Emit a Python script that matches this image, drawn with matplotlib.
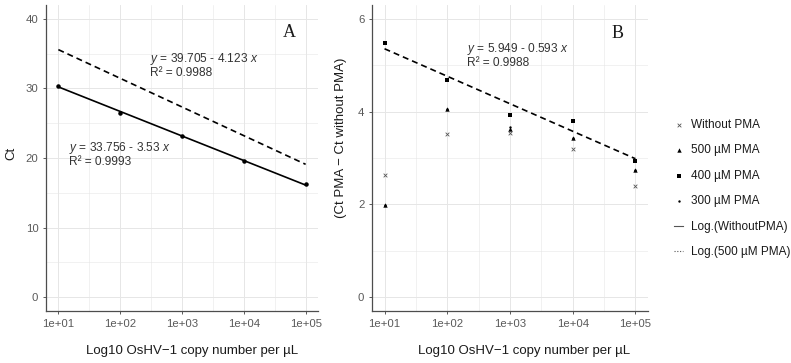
import numpy as np
import matplotlib
matplotlib.use("Agg")
import matplotlib.pyplot as plt
from matplotlib.lines import Line2D
from matplotlib.ticker import FixedLocator, FuncFormatter

plt.rcParams["font.family"] = ["Liberation Sans", "DejaVu Sans"]
plt.rcParams["mathtext.fontset"] = "custom"
plt.rcParams["mathtext.it"] = "Liberation Sans:italic"
plt.rcParams["mathtext.rm"] = "Liberation Sans"

# data
copies = [1e1, 1e2, 1e3, 1e4, 1e5]
ct_without = [30.3, 26.5, 23.2, 19.5, 16.2]
fit_a_without = (33.756, -3.53)
fit_a_500 = (39.705, -4.123)

delta_without = [2.64, 3.52, 3.55, 3.20, 2.39]
delta_500 = [1.98, 4.05, 3.62, 3.44, 2.75]
delta_400 = [5.47, 4.69, 3.93, 3.80, 2.94]
delta_300 = [1.98, 4.05, 3.66, 3.44, 2.75]
fit_b = (5.949, -0.593)

xlabel = "Log10 OsHV\u22121 copy number per \u00b5L"
grid_col = "#e6e6e6"
spine_col = "#4d4d4d"
tick_col = "#5a5a5a"


def style_axis(ax, yticks, ylim):
    ax.set_xscale("log")
    ax.set_xlim(10 ** 0.8, 10 ** 5.2)
    ax.set_ylim(*ylim)
    ax.xaxis.set_major_locator(FixedLocator(copies))
    ax.xaxis.set_minor_locator(FixedLocator([10 ** (k + 0.5) for k in range(1, 5)]))
    ax.xaxis.set_major_formatter(FuncFormatter(lambda v, p: "%.0e" % v))
    ax.xaxis.set_minor_formatter(FuncFormatter(lambda v, p: ""))
    ax.set_yticks(yticks)
    step = yticks[1] - yticks[0]
    ax.set_yticks([t + step / 2 for t in yticks[:-1]], minor=True)
    ax.grid(True, which="major", color=grid_col, linewidth=0.7)
    ax.grid(True, which="minor", color=grid_col, linewidth=0.4)
    ax.set_axisbelow(True)
    for s in ("top", "right"):
        ax.spines[s].set_visible(False)
    for s in ("left", "bottom"):
        ax.spines[s].set_color(spine_col)
        ax.spines[s].set_linewidth(0.9)
    ax.tick_params(which="major", length=2.5, width=0.7, color=tick_col,
                   labelcolor=tick_col, labelsize=8.2, pad=3)
    ax.tick_params(which="minor", length=0)


fig = plt.figure(figsize=(7.91, 3.63), dpi=100)
axA = fig.add_axes([46 / 791, 52 / 363, 272 / 791, 306 / 363])
axB = fig.add_axes([372 / 791, 52 / 363, 276 / 791, 306 / 363])

# panel A
style_axis(axA, [0, 10, 20, 30, 40], (-2, 42))
lx = np.log10(copies)
axA.plot(copies, fit_a_without[0] + fit_a_without[1] * lx, color="black", lw=1.2)
axA.plot(copies, fit_a_500[0] + fit_a_500[1] * lx, color="black", lw=1.2,
         linestyle=(0, (3.6, 2.4)))
axA.scatter(copies, ct_without, s=5, color="black", zorder=3)
eq_kw = dict(fontsize=8.6, color="#333333", va="center")
axA.text(10 ** 2.49, 34.2, r"$\mathit{y}$ = 39.705 - 4.123 $\mathit{x}$", **eq_kw)
axA.text(10 ** 2.49, 32.2, "R\u00b2 = 0.9988", **eq_kw)
axA.text(10 ** 1.18, 21.5, r"$\mathit{y}$ = 33.756 - 3.53 $\mathit{x}$", **eq_kw)
axA.text(10 ** 1.18, 19.4, "R\u00b2 = 0.9993", **eq_kw)
axA.text(10 ** 4.74, 38.0, "A", fontsize=13, family="Liberation Serif",
         ha="center", va="center", color="#1a1a1a")
axA.set_ylabel("Ct", fontsize=9.5, color="#1a1a1a")
axA.yaxis.set_label_coords(-0.107, 0.516)
axA.set_xlabel(xlabel, fontsize=9.5, color="#1a1a1a")
axA.xaxis.set_label_coords(0.537, -0.111)

# panel B
style_axis(axB, [0, 2, 4, 6], (-0.3, 6.3))
axB.plot(copies, fit_b[0] + fit_b[1] * lx, color="black", lw=1.2,
         linestyle=(0, (3.6, 2.4)), zorder=2)
h_wo = axB.scatter(copies, delta_without, marker="x", s=7, linewidths=0.6,
                   color="#555555", zorder=3, label="Without PMA")
h_500 = axB.scatter(copies, delta_500, marker="^", s=10, color="black",
                    linewidths=0, zorder=3, label="500 \u00b5M PMA")
h_400 = axB.scatter(copies, delta_400, marker="s", s=8, color="black",
                    linewidths=0, zorder=3, label="400 \u00b5M PMA")
h_300 = axB.scatter(copies, delta_300, marker="o", s=3, color="black",
                    linewidths=0, zorder=4, label="300 \u00b5M PMA")
axB.text(10 ** 2.32, 5.35, r"$\mathit{y}$ = 5.949 - 0.593 $\mathit{x}$", **eq_kw)
axB.text(10 ** 2.32, 5.05, "R\u00b2 = 0.9988", **eq_kw)
axB.text(10 ** 4.72, 5.69, "B", fontsize=13, family="Liberation Serif",
         ha="center", va="center", color="#1a1a1a")
axB.set_ylabel("(Ct PMA \u2212 Ct without PMA)", fontsize=9.5, color="#1a1a1a")
axB.yaxis.set_label_coords(-0.091, 0.565)
axB.set_xlabel(xlabel, fontsize=9.5, color="#1a1a1a")
axB.xaxis.set_label_coords(0.551, -0.111)

line_wo = Line2D([], [], color="#555555", lw=0.8, label="Log.(WithoutPMA)")
line_500 = Line2D([], [], color="#555555", lw=0.8, linestyle=(0, (1, 1.5)),
                  label="Log.(500 \u00b5M PMA)")
fig.legend(handles=[h_wo, h_500, h_400, h_300, line_wo, line_500],
           loc="center left", bbox_to_anchor=(674 / 791, 1 - 188.5 / 363),
           frameon=False, fontsize=8.5, handlelength=0.8, handletextpad=0.64,
           labelspacing=1.14, borderpad=0, borderaxespad=0, labelcolor="#1a1a1a")

fig.savefig("out.png", dpi=100)
